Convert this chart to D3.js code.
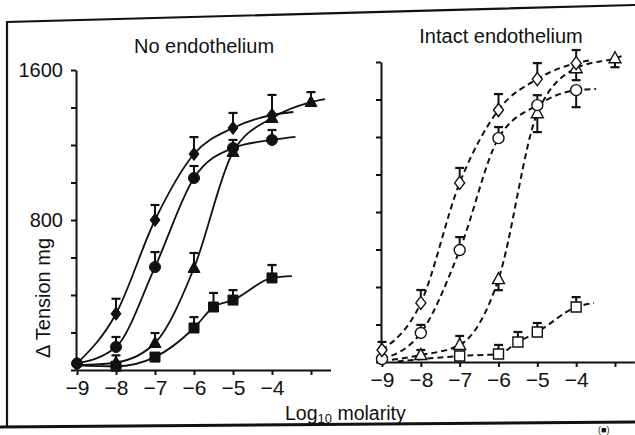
<!DOCTYPE html>
<html>
<head>
<meta charset="utf-8">
<script src="https://cdn.jsdelivr.net/npm/d3@7"></script>
<style>
  body { margin: 0; background: #fff; }
  text { font-family: "Liberation Sans", Arial, Helvetica, sans-serif; fill: #111; }
</style>
</head>
<body>
<div id="chart"></div>
<script>
// data: [log molarity, tension mg, error] (negative error = bar drawn downwards)
var noEndoDiamond  = [[-9, 35, 0], [-8, 300, 80], [-7, 800, 80], [-6, 1152, 90], [-5, 1291, 80], [-4, 1360, 107]];
var noEndoCircle   = [[-9, 35, 0], [-8, 123, 53], [-7, 549, 80], [-6, 1024, 64], [-5, 1184, 43], [-4, 1227, 53]];
var noEndoTriangle = [[-8, 40, 0], [-7, 144, 53], [-6, 544, 80], [-5, 1163, 0], [-4, 1344, 0], [-3, 1429, 53]];
var noEndoSquare   = [[-8, 20, 58], [-7, 69, 0], [-6, 224, 58], [-5.5, 336, 75], [-5, 373, 53], [-4, 491, 69]];

var intactDiamond  = [[-9, 64, 43], [-8, 315, 69], [-7, 955, 80], [-6, 1344, 85], [-5, 1509, 85], [-4, 1594, 70]];
var intactCircle   = [[-9, 16, 0], [-8, 155, 43], [-7, 597, 69], [-6, 1194, 59], [-5, 1370, 53], [-4, 1450, -91]];
var intactTriangle = [[-8, 37, 27], [-7, 91, 48], [-6, 442, -59], [-5, 1327, -101], [-4, 1567, -64], [-3, 1620, -48]];
var intactSquare   = [[-7, 32, 0], [-6, 43, 48], [-5.5, 107, 53], [-5, 160, 48], [-4, 293, 53]];

// where each fitted line starts and stops outside the points
var noEndoFitEnds = {
  diamond: [[-9, 35], [-3.45, 1376]],
  circle: [[-9, 35], [-3.4, 1243]],
  triangle: [[-9, 25], [-2.64, 1445]],
  square: [[-9, 25], [-3.49, 501]]
};
var intactFitEnds = {
  diamond: [[-9, 64], [-3.6, 1610]],
  circle: [[-9, 16], [-3.49, 1456]],
  triangle: [[-9, 5], [-2.75, 1637]],
  square: [[-8.6, 3], [-3.54, 315]]
};

var xTicks = [-9, -8, -7, -6, -5, -4, -3];
var yTicks = [0, 200, 400, 600, 800, 1000, 1200, 1400, 1600];
var yLabels = [800, 1600];

var svgWidth = 635, svgHeight = 435;

var svg = d3.select("#chart").append("svg")
    .attr("width", svgWidth)
    .attr("height", svgHeight);

// border of the scanned figure (slightly skewed)
svg.append("path")
    .attr("d", "M7,427 L7,22 L635,5")
    .attr("fill", "none")
    .attr("stroke", "#111")
    .attr("stroke-width", 2.2);
svg.append("path")
    .attr("d", "M0,427 L635,422")
    .attr("fill", "none")
    .attr("stroke", "#111")
    .attr("stroke-width", 2.8);

function markerPath(shape) {
  if (shape == "diamond") return "M0,-6.5 L5,0 L0,6.5 L-5,0 Z";
  if (shape == "triangle") return "M0,-6.5 L6,4.5 L-6,4.5 Z";
  if (shape == "square") return "M-5,-5 L5,-5 L5,5 L-5,5 Z";
  return d3.arc()({innerRadius: 0, outerRadius: 5.5, startAngle: 0, endAngle: 2 * Math.PI});
}

function drawPanel(opt) {
  var g = svg.append("g");

  var x = d3.scaleLinear().domain([-9, -2.5]).range(opt.xRange);
  var y = d3.scaleLinear().domain([0, 1600]).range(opt.yRange);

  var xAxis = d3.axisBottom(x)
      .tickValues(xTicks)
      .tickSize(5)
      .tickSizeOuter(0)
      .tickPadding(5)
      .tickFormat(d => d <= -4 ? "\u2212" + Math.abs(d) : "");

  var yAxis = d3.axisLeft(y)
      .tickValues(yTicks)
      .tickSize(5)
      .tickSizeOuter(0)
      .tickPadding(8)
      .tickFormat(d => opt.labelY && yLabels.includes(d) ? d : "");

  var gx = g.append("g")
      .attr("transform", `translate(0, ${opt.yRange[0]})`)
      .call(xAxis);
  gx.selectAll("text").style("font-size", "21px").attr("fill", "#111");

  var gy = g.append("g")
      .attr("transform", `translate(${opt.xRange[0] - 1}, 0)`)
      .call(yAxis);
  gy.selectAll("text").style("font-size", "20px").attr("fill", "#111");

  g.selectAll(".domain, .tick line")
      .attr("stroke", "#111")
      .attr("stroke-width", 2);

  g.append("text")
      .attr("x", opt.titleX)
      .attr("y", opt.titleY)
      .attr("text-anchor", "middle")
      .style("font-size", "20px")
      .text(opt.title);

  var line = d3.line()
      .x(d => x(d[0]))
      .y(d => y(d[1]))
      .curve(d3.curveMonotoneX);

  // fitted curves
  opt.series.forEach(function(s) {
    var pts = s.data.map(d => [d[0], d[1]]);
    var first = s.ends[0], last = s.ends[1];
    if (first[0] < pts[0][0]) pts.unshift(first);
    pts.push(last);
    g.append("path")
        .attr("d", line(pts))
        .attr("fill", "none")
        .attr("stroke", "#111")
        .attr("stroke-width", opt.dashed ? 2 : 1.8)
        .attr("stroke-dasharray", opt.dashed ? "6,4" : null);
  });

  // error bars
  opt.series.forEach(function(s) {
    var bars = s.data.filter(d => d[2] != 0);
    g.selectAll(null).data(bars).enter().append("line")
        .attr("x1", d => x(d[0])).attr("x2", d => x(d[0]))
        .attr("y1", d => y(d[1])).attr("y2", d => y(d[1] + d[2]))
        .attr("stroke", "#111").attr("stroke-width", 2);
    g.selectAll(null).data(bars).enter().append("line")
        .attr("x1", d => x(d[0]) - 4.5).attr("x2", d => x(d[0]) + 4.5)
        .attr("y1", d => y(d[1] + d[2])).attr("y2", d => y(d[1] + d[2]))
        .attr("stroke", "#111").attr("stroke-width", 2.2);
  });

  // markers
  opt.series.forEach(function(s) {
    g.selectAll(null).data(s.data).enter().append("path")
        .attr("d", markerPath(s.shape))
        .attr("transform", d => `translate(${x(d[0])}, ${y(d[1])})`)
        .attr("fill", opt.dashed ? "#fff" : "#111")
        .attr("stroke", "#111")
        .attr("stroke-width", opt.dashed ? 1.4 : 1);
  });
}

drawPanel({
  xRange: [77, 330.5],
  yRange: [370, 70],
  labelY: true,
  dashed: false,
  title: "No endothelium",
  titleX: 204, titleY: 53,
  series: [
    {data: noEndoSquare, shape: "square", ends: noEndoFitEnds.square},
    {data: noEndoTriangle, shape: "triangle", ends: noEndoFitEnds.triangle},
    {data: noEndoCircle, shape: "circle", ends: noEndoFitEnds.circle},
    {data: noEndoDiamond, shape: "diamond", ends: noEndoFitEnds.diamond}
  ]
});

drawPanel({
  xRange: [382, 634.4],
  yRange: [362, 62],
  labelY: false,
  dashed: true,
  title: "Intact endothelium",
  titleX: 501, titleY: 43,
  series: [
    {data: intactSquare, shape: "square", ends: intactFitEnds.square},
    {data: intactTriangle, shape: "triangle", ends: intactFitEnds.triangle},
    {data: intactCircle, shape: "circle", ends: intactFitEnds.circle},
    {data: intactDiamond, shape: "diamond", ends: intactFitEnds.diamond}
  ]
});

// y axis title
svg.append("text")
    .attr("transform", "translate(50, 298) rotate(-90)")
    .attr("text-anchor", "middle")
    .style("font-size", "20px")
    .text("\u0394 Tension mg");

// x axis title with subscript
var xTitle = svg.append("text")
    .attr("x", 285)
    .attr("y", 420)
    .style("font-size", "19.5px");
xTitle.append("tspan").text("Log");
xTitle.append("tspan").attr("dy", 3).style("font-size", "13px").text("10");
xTitle.append("tspan").attr("dy", -3).text(" molarity");

// start of the next caption below the frame
svg.append("text")
    .attr("x", 598)
    .attr("y", 433)
    .style("font-size", "9px")
    .text("(\u25A0)");
</script>
</body>
</html>
